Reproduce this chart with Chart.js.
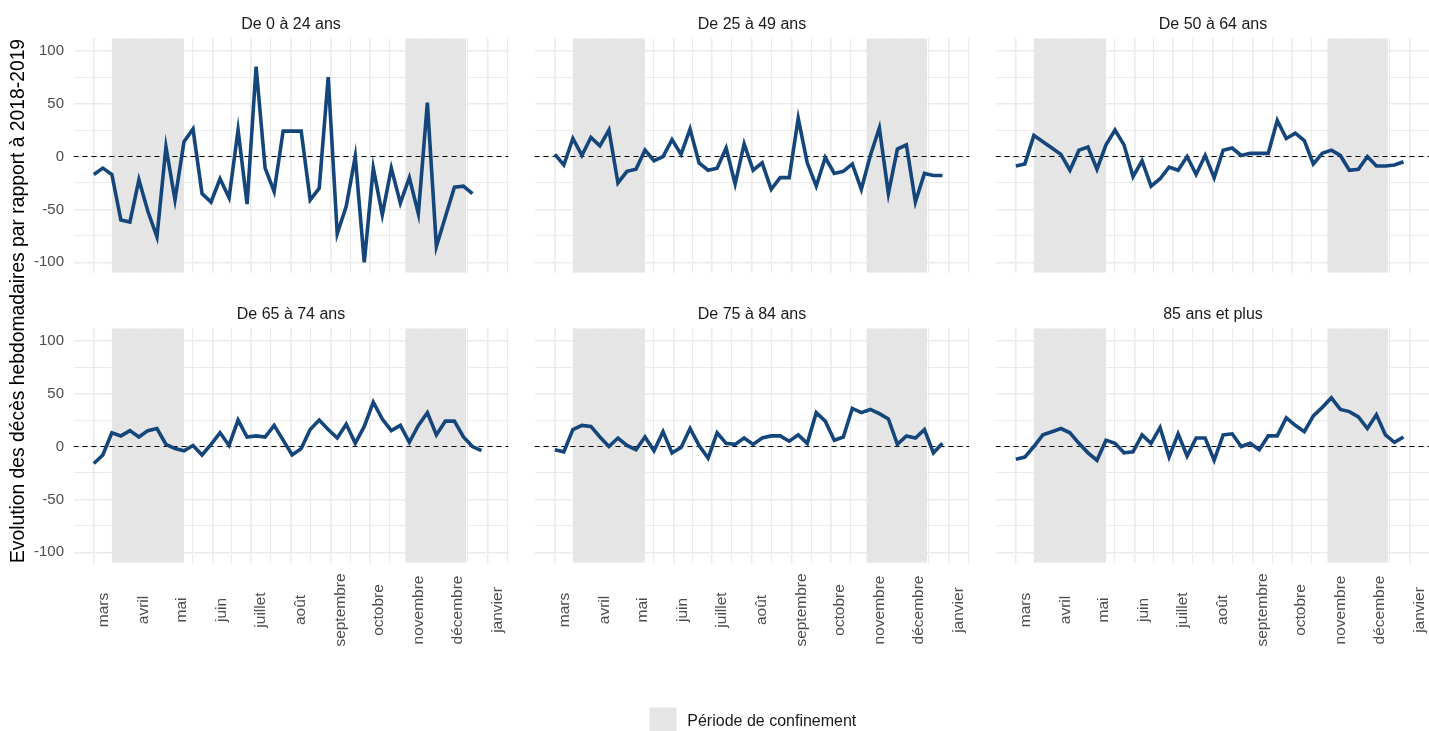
<!DOCTYPE html>
<html>
<head>
<meta charset="utf-8">
<script src="https://cdn.jsdelivr.net/npm/chart.js"></script>
<style>
  html, body { margin: 0; padding: 0; background: #fff; }
  #wrap { position: relative; width: 1429px; height: 731px; overflow: hidden; }
  #wrap canvas { position: absolute; left: 0; top: 0; }
</style>
</head>
<body>
<div id="wrap"></div>
<script>
// weekly points (Sundays) - x values
const weekDates = [
  '2020-03-01','2020-03-08','2020-03-15','2020-03-22','2020-03-29',
  '2020-04-05','2020-04-12','2020-04-19','2020-04-26',
  '2020-05-03','2020-05-10','2020-05-17','2020-05-24','2020-05-31',
  '2020-06-07','2020-06-14','2020-06-21','2020-06-28',
  '2020-07-05','2020-07-12','2020-07-19','2020-07-26',
  '2020-08-02','2020-08-09','2020-08-16','2020-08-23','2020-08-30',
  '2020-09-06','2020-09-13','2020-09-20','2020-09-27',
  '2020-10-04','2020-10-11','2020-10-18','2020-10-25',
  '2020-11-01','2020-11-08','2020-11-15','2020-11-22','2020-11-29',
  '2020-12-06','2020-12-13','2020-12-20','2020-12-27'
]

// month ticks
const monthDates = ['2020-03-01','2020-04-01','2020-05-01','2020-06-01','2020-07-01','2020-08-01',
  '2020-09-01','2020-10-01','2020-11-01','2020-12-01','2021-01-01']
const monthLabels = ['mars','avril','mai','juin','juillet','août','septembre','octobre','novembre','décembre','janvier']

// confinement periods
const lockStart = ['2020-03-15', '2020-10-29']
const lockEnd = ['2020-05-10', '2020-12-15']

const yTicks = [-100, -75, -50, -25, 0, 25, 50, 75, 100]

const panelTitles = ['De 0 à 24 ans', 'De 25 à 49 ans', 'De 50 à 64 ans', 'De 65 à 74 ans', 'De 75 à 84 ans', '85 ans et plus']

// % evolution of weekly deaths vs 2018-2019
const age0_24 = [-17, -11, -17, -60, -62, -22, -52, -76, 9, -41, 14, 26, -35, -43, -21, -39, 25, -45, 85, -11,
  -33, 24, 24, 24, -41, -30, 75, -73, -47, 0, -100, -11, -55, -11, -44, -20, -54, 51, -85, -57, -29, -28, -35]
const age25_49 = [2, -8, 17, 1, 18, 10, 25, -25, -14, -12, 6, -4, 0, 16, 2, 26, -6, -13, -11, 8,
  -26, 12, -13, -6, -31, -20, -20, 36, -6, -28, -1, -16, -14, -7, -31, 1, 27, -35, 7, 11, -43, -16, -18, -18]
const age50_64 = [-9, -7, 20, 14, 8, 2, -13, 6, 9, -12, 11, 25, 11, -19, -4, -28, -21, -10, -13, 0,
  -17, 1, -20, 6, 8, 1, 3, 3, 3, 34, 17, 22, 15, -7, 3, 6, 1, -13, -12, 0, -9, -9, -8, -5]
const age65_74 = [-16, -8, 13, 10, 15, 9, 15, 17, 2, -2, -4, 1, -8, 2, 13, 1, 25, 9, 10, 9,
  20, 6, -8, -2, 16, 25, 16, 8, 21, 3, 19, 42, 26, 15, 20, 4, 20, 32, 11, 24, 24, 9, 0, -4]
const age75_84 = [-3, -5, 16, 20, 19, 9, 0, 8, 1, -3, 9, -4, 14, -6, -1, 17, 1, -11, 13, 3,
  2, 8, 2, 8, 10, 10, 5, 11, 3, 32, 24, 6, 9, 36, 32, 35, 31, 26, 2, 10, 8, 16, -6, 3]
const age85plus = [-12, -10, 0, 11, 14, 17, 13, 3, -6, -13, 6, 3, -6, -5, 11, 3, 18, -10, 12, -9,
  8, 8, -13, 11, 12, 0, 3, -3, 10, 10, 27, 20, 14, 29, 37, 46, 35, 33, 28, 17, 30, 11, 4, 9]

const series = [age0_24, age25_49, age50_64, age65_74, age75_84, age85plus]

const FONT = '"Liberation Sans", Arial, sans-serif'
const CW = 1440, CH = 731
const panelLeft = [73.5, 534.5, 995.5]
const panelTop = [38.3, 328.3]
const panelW = 435, panelH = 234.4
const xMin = -15.8, xMax = 322

const dayOf = s => (Date.parse(s) - Date.parse('2020-03-01')) / 86400000

const majorX = monthDates.map(dayOf)
const minorX = []
for (let i = 1; i < majorX.length; i++) minorX.push((majorX[i - 1] + majorX[i]) / 2)
minorX.push(majorX[majorX.length - 1] + (majorX[majorX.length - 1] - majorX[majorX.length - 2]) / 2)
const xGrid = majorX.concat(minorX).sort((a, b) => a - b)

const wrap = document.getElementById('wrap')

series.forEach((vals, idx) => {
  const row = Math.floor(idx / 3), col = idx % 3
  const yW = col === 0 ? 40 : 0
  const left = panelLeft[col], top = panelTop[row]

  const canvas = document.createElement('canvas')
  canvas.width = CW
  canvas.height = CH
  wrap.appendChild(canvas)

  const decor = {
    id: 'decor' + idx,
    beforeDatasetsDraw(chart) {
      const { ctx, chartArea: a, scales: { x, y } } = chart
      ctx.save()
      ctx.beginPath()
      ctx.rect(a.left, a.top, a.right - a.left, a.bottom - a.top)
      ctx.clip()
      ctx.fillStyle = '#e5e5e5'
      lockStart.forEach((s, i) => {
        const x0 = x.getPixelForValue(dayOf(s)), x1 = x.getPixelForValue(dayOf(lockEnd[i]))
        ctx.fillRect(x0, a.top, x1 - x0, a.bottom - a.top)
      })
      const y0 = y.getPixelForValue(0)
      ctx.strokeStyle = '#000'
      ctx.lineWidth = 1.2
      ctx.setLineDash([5, 4])
      ctx.beginPath()
      ctx.moveTo(a.left, y0)
      ctx.lineTo(a.right, y0)
      ctx.stroke()
      ctx.restore()
    },
    afterDraw(chart) {
      const { ctx, chartArea: a, scales: { x } } = chart
      ctx.save()
      // facet strip title
      ctx.fillStyle = '#1a1a1a'
      ctx.font = '16px ' + FONT
      ctx.textAlign = 'center'
      ctx.textBaseline = 'middle'
      ctx.fillText(panelTitles[idx], (a.left + a.right) / 2, a.top - 13.3)
      // month labels under the bottom row
      if (row === 1) {
        ctx.fillStyle = '#4d4d4d'
        ctx.font = '15.5px ' + FONT
        monthDates.forEach((d, i) => {
          ctx.save()
          ctx.translate(x.getPixelForValue(dayOf(d)) + 9.5, 610)
          ctx.rotate(-Math.PI / 2)
          ctx.fillText(monthLabels[i], 0, 0)
          ctx.restore()
        })
      }
      if (idx === 0) {
        // y axis title
        ctx.fillStyle = '#000'
        ctx.font = '19.3px ' + FONT
        ctx.save()
        ctx.translate(18.5, 301)
        ctx.rotate(-Math.PI / 2)
        ctx.fillText('Evolution des décès hebdomadaires par rapport à 2018-2019', 0, 0)
        ctx.restore()
        // legend
        ctx.fillStyle = '#e5e5e5'
        ctx.fillRect(649.5, 707.5, 27, 27)
        ctx.fillStyle = '#1a1a1a'
        ctx.font = '16px ' + FONT
        ctx.textAlign = 'left'
        ctx.fillText('Période de confinement', 687.3, 722)
      }
      ctx.restore()
    }
  }

  new Chart(canvas.getContext('2d'), {
    type: 'line',
    data: {
      datasets: [{
        label: panelTitles[idx],
        data: vals.map((v, i) => ({ x: dayOf(weekDates[i]), y: v })),
        borderColor: '#14467c',
        borderWidth: 3.6,
        pointRadius: 0,
        tension: 0,
        fill: false
      }]
    },
    options: {
      responsive: false,
      animation: false,
      events: [],
      layout: {
        padding: { left: left - yW, right: CW - left - panelW, top: top, bottom: CH - top - panelH }
      },
      plugins: { legend: { display: false }, tooltip: { enabled: false } },
      scales: {
        x: {
          type: 'linear', min: xMin, max: xMax,
          border: { display: false },
          grid: { color: '#ebebeb', drawTicks: false, lineWidth: c => majorX.includes(c.tick.value) ? 1.6 : 1 },
          ticks: { display: false },
          afterBuildTicks: s => { s.ticks = xGrid.map(v => ({ value: v })) },
          afterFit: s => { s.height = 0 }
        },
        y: {
          min: -109.8, max: 111.7,
          border: { display: false },
          grid: { color: '#ebebeb', drawTicks: false, lineWidth: c => c.tick.value % 50 === 0 ? 1.6 : 1 },
          ticks: {
            display: col === 0, padding: 9.5, color: '#4d4d4d', font: { family: FONT, size: 15 },
            autoSkip: false,
            callback: v => v % 50 === 0 ? String(v) : ''
          },
          afterBuildTicks: s => { s.ticks = yTicks.map(v => ({ value: v })) },
          afterFit: s => { s.width = yW }
        }
      }
    },
    plugins: [decor]
  })
})
</script>
</body>
</html>
